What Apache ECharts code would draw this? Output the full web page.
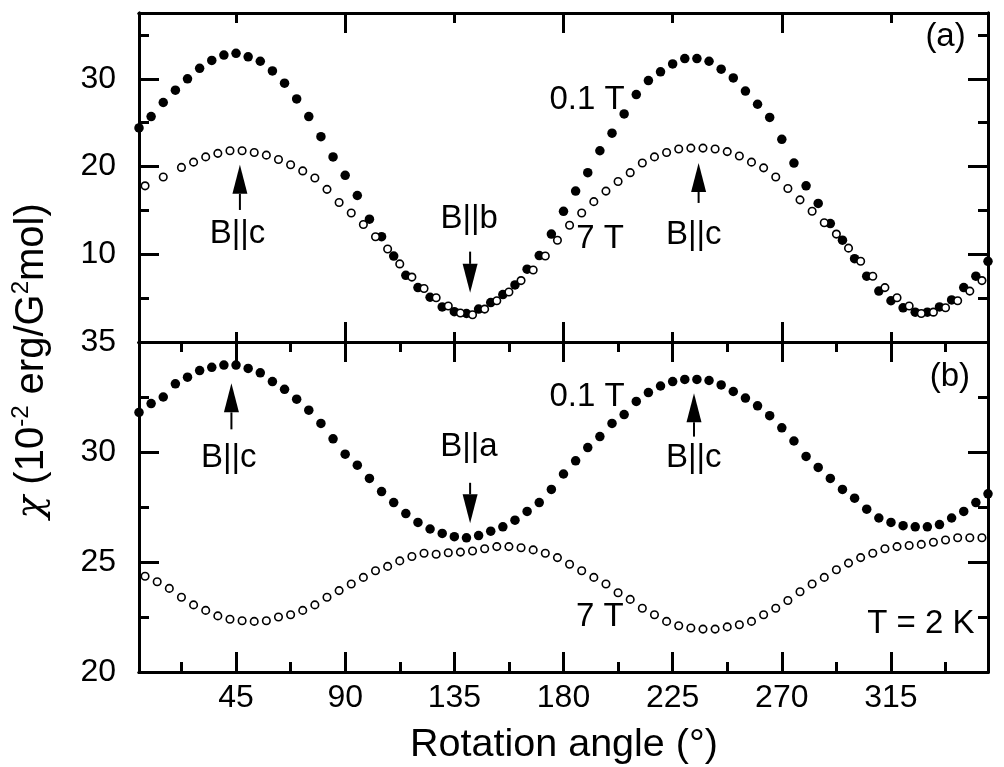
<!doctype html>
<html>
<head>
<meta charset="utf-8">
<style>
  html, body { margin: 0; padding: 0; background: #fff; }
  #main { width: 1004px; height: 767px; }
</style>
</head>
<body>
<div id="main"></div>
<script src="https://cdn.jsdelivr.net/npm/echarts@6/dist/echarts.min.js"></script>
<script>
// ---- data: panel (a), top ----
var angA_01T = [5, 10, 15, 20, 25, 30, 35, 40, 45, 50, 55, 60, 65, 70, 75, 80, 85, 90, 95, 100,
  105, 110, 115, 120, 125, 130, 135, 140, 145, 150, 155, 160, 165, 170, 175, 180, 185, 190, 195, 200,
  205, 210, 215, 220, 225, 230, 235, 240, 245, 250, 255, 260, 265, 270, 275, 280, 285, 290, 295, 300,
  305, 310, 315, 320, 325, 330, 335, 340, 345, 350, 355];
var chiA_01T = [24.4, 25.7, 27.3, 28.7, 30.0, 31.2, 32.1, 32.7, 32.9, 32.5, 32.0, 30.9, 29.5, 27.7, 25.7, 23.4, 21.1, 19.0, 16.7, 14.0,
  12.0, 9.8, 7.6, 6.2, 5.1, 4.0, 3.45, 3.25, 3.75, 4.5, 5.4, 6.5, 8.3, 9.85, 12.3, 14.9, 17.2, 19.3, 21.8, 23.8,
  26.0, 28.2, 29.8, 30.8, 31.7, 32.3, 32.3, 32.0, 31.1, 30.1, 28.6, 27.1, 25.6, 23.1, 20.4, 17.8, 15.8, 13.5, 11.6, 9.5,
  7.5, 5.8, 4.7, 3.9, 3.4, 3.4, 4.0, 4.8, 6.2, 7.5, 9.2];

var angA_7T = [7.5, 15, 22.5, 27.5, 32.5, 37.5, 42.5, 47.5, 52.5, 57.5, 62.5, 67.5, 72.5, 77.5, 82.5, 87.5, 92.5, 97.5,
  102.5, 107.5, 112.5, 117.5, 122.5, 127.5, 132.5, 137.5, 142.5, 147.5, 152.5, 157.5, 162.5, 167.5, 172.5, 177.5,
  182.5, 187.5, 192.5, 197.5, 202.5, 207.5, 212.5, 217.5, 222.5, 227.5, 232.5, 237.5, 242.5, 247.5, 252.5, 257.5,
  262.5, 267.5, 272.5, 277.5, 282.5, 287.5, 292.5, 297.5, 302.5, 307.5, 312.5, 317.5, 322.5, 327.5, 332.5, 337.5,
  342.5, 347.5, 352.5];
var chiA_7T = [17.8, 18.8, 19.9, 20.5, 21.1, 21.5, 21.8, 21.8, 21.6, 21.3, 20.8, 20.2, 19.5, 18.7, 17.4, 15.9, 14.7, 13.4,
  12.0, 10.6, 8.9, 7.4, 6.1, 5.05, 4.1, 3.3, 3.1, 3.75, 4.7, 5.7, 7.0, 8.2, 9.8, 11.6,
  13.3, 14.7, 16.0, 17.2, 18.3, 19.3, 20.4, 21.1, 21.6, 22.0, 22.1, 22.1, 22.0, 21.7, 21.2, 20.5,
  19.85, 18.8, 17.5, 16.2, 14.9, 13.6, 12.3, 10.7, 9.2, 7.5, 6.2, 5.05, 4.1, 3.25, 3.4, 3.9,
  4.7, 5.8, 7.0];

// ---- data: panel (b), bottom ----
var angB_01T = angA_01T;
var chiB_01T = [31.8, 32.2, 32.5, 33.1, 33.4, 33.7, 33.85, 33.95, 33.95, 33.8, 33.6, 33.2, 32.85, 32.4, 31.9, 31.3, 30.6, 29.9, 29.4, 28.8,
  28.2, 27.7, 27.2, 26.8, 26.5, 26.3, 26.15, 26.1, 26.2, 26.4, 26.6, 26.9, 27.3, 27.7, 28.3, 29.0, 29.6, 30.2, 30.7, 31.3,
  31.7, 32.3, 32.7, 33.0, 33.2, 33.3, 33.3, 33.25, 33.05, 32.75, 32.45, 32.1, 31.65, 31.1, 30.5, 29.8, 29.3, 28.8, 28.3, 27.9,
  27.4, 27.0, 26.8, 26.65, 26.6, 26.6, 26.7, 27.0, 27.3, 27.7, 28.1];

var angB_7T = [7.5, 12.5, 17.5, 22.5, 27.5, 32.5, 37.5, 42.5, 47.5, 52.5, 57.5, 62.5, 67.5, 72.5, 77.5, 82.5, 87.5, 92.5, 97.5,
  102.5, 107.5, 112.5, 117.5, 122.5, 127.5, 132.5, 137.5, 142.5, 147.5, 152.5, 157.5, 162.5, 167.5, 172.5, 177.5,
  182.5, 187.5, 192.5, 197.5, 202.5, 207.5, 212.5, 217.5, 222.5, 227.5, 232.5, 237.5, 242.5, 247.5, 252.5, 257.5,
  262.5, 267.5, 272.5, 277.5, 282.5, 287.5, 292.5, 297.5, 302.5, 307.5, 312.5, 317.5, 322.5, 327.5, 332.5, 337.5,
  342.5, 347.5, 352.5];
var chiB_7T = [24.35, 24.1, 23.8, 23.4, 23.05, 22.8, 22.55, 22.4, 22.33, 22.3, 22.33, 22.5, 22.6, 22.8, 23.05, 23.4, 23.7, 24.0, 24.3,
  24.6, 24.8, 25.05, 25.25, 25.4, 25.35, 25.42, 25.45, 25.5, 25.6, 25.7, 25.7, 25.65, 25.55, 25.4, 25.2,
  24.9, 24.6, 24.3, 24.0, 23.6, 23.3, 22.9, 22.6, 22.3, 22.1, 22.0, 21.95, 21.95, 22.05, 22.15, 22.3,
  22.6, 22.9, 23.25, 23.65, 24.0, 24.3, 24.65, 24.95, 25.2, 25.4, 25.6, 25.7, 25.75, 25.8, 25.9, 26.0,
  26.1, 26.1, 26.1];

// ---- ticks ----
var xLabels = [45, 90, 135, 180, 225, 270, 315];
var xMinorB = [22.5, 67.5, 112.5, 157.5, 202.5, 247.5, 292.5, 337.5];
var xMajorA = [90, 180, 270];
var xMinorA = [45, 135, 225, 315];
var yLabelsA = [10, 20, 30];
var yMinorA = [5, 15, 25, 35];
var yLabelsB = [20, 25, 30, 35];
var yMinorB = [22.5, 27.5, 32.5];

var FONT = 'Liberation Sans';
var black = '#000';

function zip(xs, ys) {
  return xs.map(function (x, i) { return [x, ys[i]]; });
}

function xAx(grid, pos, ticks, len, labels) {
  return {
    type: 'value', gridIndex: grid, position: pos, min: 5, max: 355,
    axisLine: { show: true, onZero: false, lineStyle: { color: black, width: 3 } },
    axisTick: { show: true, inside: true, length: len, customValues: ticks, lineStyle: { color: black, width: 3 } },
    axisLabel: labels ? { show: true, customValues: labels, margin: 10, fontSize: 32, fontFamily: FONT, color: black } : { show: false },
    splitLine: { show: false }
  };
}

function yAx(grid, pos, min, max, ticks, len, labels) {
  return {
    type: 'value', gridIndex: grid, position: pos, min: min, max: max,
    axisLine: { show: true, onZero: false, lineStyle: { color: black, width: 3 } },
    axisTick: { show: true, inside: true, length: len, customValues: ticks, lineStyle: { color: black, width: 3 } },
    axisLabel: labels ? { show: true, customValues: labels, margin: 23, fontSize: 32, fontFamily: FONT, color: black } : { show: false },
    splitLine: { show: false }
  };
}

var filled = { color: black, opacity: 1 };
var hollow = { color: '#fff', borderColor: black, borderWidth: 1.6, opacity: 1 };

var chart = echarts.init(document.getElementById('main'));

chart.setOption({
  animation: false,
  backgroundColor: '#fff',
  grid: [
    { left: 139, right: 16, top: 13, height: 329 },
    { left: 139, right: 16, top: 342, height: 330 }
  ],
  xAxis: [
    xAx(0, 'bottom', xMajorA, 20), xAx(0, 'bottom', xMinorA, 10),
    xAx(0, 'top', xMajorA, 20), xAx(0, 'top', xMinorA, 10),
    xAx(1, 'bottom', xLabels, 20, xLabels), xAx(1, 'bottom', xMinorB, 10),
    xAx(1, 'top', xLabels, 20), xAx(1, 'top', xMinorB, 10)
  ],
  yAxis: [
    yAx(0, 'left', 0, 37.5, yLabelsA, 20, yLabelsA), yAx(0, 'left', 0, 37.5, yMinorA, 10),
    yAx(0, 'right', 0, 37.5, yLabelsA, 20), yAx(0, 'right', 0, 37.5, yMinorA, 10),
    yAx(1, 'left', 20, 35, yLabelsB, 20, yLabelsB), yAx(1, 'left', 20, 35, yMinorB, 10),
    yAx(1, 'right', 20, 35, yLabelsB, 20), yAx(1, 'right', 20, 35, yMinorB, 10)
  ],
  series: [
    { type: 'scatter', name: '0.1 T (a)', xAxisIndex: 0, yAxisIndex: 0, data: zip(angA_01T, chiA_01T),
      symbol: 'circle', symbolSize: 9.5, itemStyle: filled, z: 2 },
    { type: 'scatter', name: '7 T (a)', xAxisIndex: 0, yAxisIndex: 0, data: zip(angA_7T, chiA_7T),
      symbol: 'circle', symbolSize: 7.5, itemStyle: hollow, z: 3 },
    { type: 'scatter', name: '0.1 T (b)', xAxisIndex: 4, yAxisIndex: 4, data: zip(angB_01T, chiB_01T),
      symbol: 'circle', symbolSize: 9.5, itemStyle: filled, z: 2 },
    { type: 'scatter', name: '7 T (b)', xAxisIndex: 4, yAxisIndex: 4, data: zip(angB_7T, chiB_7T),
      symbol: 'circle', symbolSize: 7.5, itemStyle: hollow, z: 3 }
  ]
});

// ---- annotations, placed in data units of each panel ----
var arrows = [
  // panel, angle, tail value, tip value
  [0, 46.6, 15.05, 20.2],
  [0, 141.5, 10.3, 5.6],
  [0, 235.7, 15.85, 20.4],
  [1, 43.1, 31.03, 33.12],
  [1, 141.5, 28.6, 26.76],
  [1, 233.8, 30.7, 32.67]
];
var notes = [
  [0, 45.6, 12.35, 'B||c'],
  [0, 141.1, 14.06, 'B||b'],
  [0, 233.7, 12.2, 'B||c'],
  [0, 189.7, 27.56, '0.1 T'],
  [0, 195.1, 11.8, '7 T'],
  [0, 337.5, 34.8, '(a)'],
  [1, 42.0, 29.75, 'B||c'],
  [1, 141.0, 30.24, 'B||a'],
  [1, 233.7, 29.75, 'B||c'],
  [1, 189.7, 32.51, '0.1 T'],
  [1, 195.0, 22.51, '7 T'],
  [1, 339.3, 33.42, '(b)'],
  [1, 327.3, 22.17, 'T = 2 K']
];

function toPx(panel, x, y) {
  return chart.convertToPixel({ xAxisIndex: panel * 4, yAxisIndex: panel * 4 }, [x, y]);
}

var graphics = [];
arrows.forEach(function (a) {
  var tail = toPx(a[0], a[1], a[2]);
  var tip = toPx(a[0], a[1], a[3]);
  var dir = tip[1] < tail[1] ? -1 : 1;
  var headLen = 29, halfW = 7.5;
  var baseY = tip[1] - dir * headLen;
  graphics.push({
    type: 'line', z: 10,
    shape: { x1: tip[0], y1: tail[1], x2: tip[0], y2: baseY },
    style: { stroke: black, lineWidth: 2 }
  });
  graphics.push({
    type: 'polygon', z: 10,
    shape: { points: [[tip[0], tip[1]], [tip[0] - halfW, baseY], [tip[0] + halfW, baseY]] },
    style: { fill: black }
  });
});
notes.forEach(function (n) {
  var p = toPx(n[0], n[1], n[2]);
  graphics.push({
    type: 'text', z: 10, x: p[0], y: p[1],
    style: {
      text: n[3], fill: black, fontSize: 33, fontFamily: FONT,
      align: 'center', verticalAlign: 'middle',
      textAlign: 'center', textVerticalAlign: 'middle'
    }
  });
});

// axis titles
graphics.push({
  type: 'text', z: 10, x: 564, y: 745,
  style: {
    text: 'Rotation angle (°)', fill: black, fontSize: 39.5, fontFamily: FONT,
    align: 'center', verticalAlign: 'middle', textAlign: 'center', textVerticalAlign: 'middle'
  }
});
graphics.push({
  type: 'text', z: 10, x: 32, y: 361, rotation: Math.PI / 2,
  style: {
    text: '{c|χ}{n| (10}{s|-2}{n| erg/G}{s|2}{n|mol)}',
    align: 'center', verticalAlign: 'middle', textAlign: 'center', textVerticalAlign: 'middle',
    rich: {
      c: { fontSize: 38, fontFamily: 'DejaVu Serif', fontStyle: 'italic', fill: black, color: black, lineHeight: 46 },
      n: { fontSize: 40, fontFamily: FONT, fill: black, color: black, lineHeight: 46 },
      s: { fontSize: 24, fontFamily: FONT, fill: black, color: black, lineHeight: 46, verticalAlign: 'top' }
    }
  }
});

chart.setOption({ graphic: graphics });

window.onresize = chart.resize;
</script>
</body>
</html>
